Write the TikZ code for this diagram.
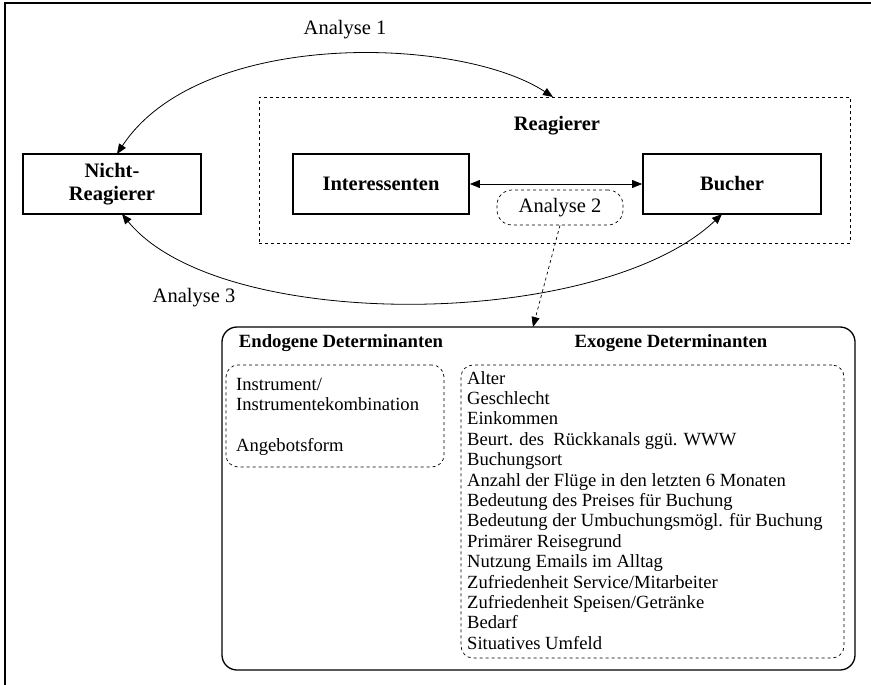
\documentclass[tikz,border=0pt]{standalone}
\usepackage{fontspec}
\setmainfont{Liberation Serif}
\usetikzlibrary{arrows.meta,calc}
\begin{document}
\begin{tikzpicture}[x=1pt,y=-1pt,
  txt/.style={font=\fontsize{18.6}{20.4}\selectfont},
  ltxt/.style={font=\fontsize{20.5}{22}\selectfont},
  bx/.style={draw,line width=1.8pt,minimum width=178pt,minimum height=60pt,align=center,font=\fontsize{20.5}{23}\selectfont\bfseries},
  hd/.style={font=\fontsize{18.7}{20.4}\selectfont\bfseries},
  tipboth/.style={{Triangle[length=10pt,width=8pt]}-{Triangle[length=10pt,width=8pt]}},
  tipone/.style={-{Triangle[length=10pt,width=8pt]}},
  dbox/.style={draw,dashed,line width=0.7pt,rounded corners=12pt}]
\useasboundingbox (0,0) rectangle (871,685);
\draw[line width=1.2pt] (5,685) -- (5,3) -- (871,3);

\node[ltxt] (a1) at (345,30) {Analyse 1};
\node[ltxt] (a3) at (194,298) {Analyse 3};

\node[draw,dashed,line width=0.7pt,minimum width=591pt,minimum height=146pt] (reag) at (554.5,170) {};
\node[bx,draw=none] (reaglbl) at (557,126) {Reagierer};

\node[bx] (nr) at (112,184) {Nicht-\\Reagierer};
\node[bx,minimum width=176pt] (int) at (381,184) {Interessenten};
\node[bx] (bu) at (732,184) {Bucher};

\draw[tipboth,line width=0.7pt] (int.east) -- (bu.west);
\node[dbox,minimum width=126pt,minimum height=35pt,ltxt,rounded corners=15pt] (a2) at (560,207.5) {Analyse 2};

\node[draw,line width=1.3pt,rounded corners=15pt,minimum width=633pt,minimum height=343pt] (det) at (538.5,498.5) {};

\coordinate (rtop) at (553,97);
\coordinate (nrtop) at (117,154);
\coordinate (nrbot) at (122,214);
\coordinate (bubot) at (722,214);
\coordinate (detin) at (533,327);

\draw[tipboth,line width=0.8pt] (nrtop) .. controls (200,28) and (460,36) .. (rtop);
\draw[tipboth,line width=0.8pt] (nrbot) .. controls (220,334) and (600,330) .. (bubot);
\draw[tipone,dashed,line width=0.7pt] (a2.south) -- (detin);

\node[hd] (endo) at (341,343) {Endogene Determinanten};
\node[hd] (exo) at (671,343) {Exogene Determinanten};

\node[dbox,minimum width=218pt,minimum height=102pt] (endobox) at (335,416) {};
\node[dbox,minimum width=383pt,minimum height=293pt] (exobox) at (652.5,511.5) {};

\node[txt,align=left,anchor=north west,inner sep=0pt] (endolist) at (236,378) {Instrument/\\Instrumentekombination\\[20.4pt]Angebotsform};
\node[txt,align=left,anchor=north west,inner sep=0pt] (exolist) at (467,371) {Alter\\Geschlecht\\Einkommen\\Beurt. des~ Rückkanals ggü. WWW\\Buchungsort\\Anzahl der Flüge in den letzten 6 Monaten\\Bedeutung des Preises für Buchung\\Bedeutung der Umbuchungsmögl. für Buchung\\Primärer Reisegrund\\Nutzung Emails im Alltag\\Zufriedenheit Service/Mitarbeiter\\Zufriedenheit Speisen/Getränke\\Bedarf\\Situatives Umfeld};
\end{tikzpicture}
\end{document}
